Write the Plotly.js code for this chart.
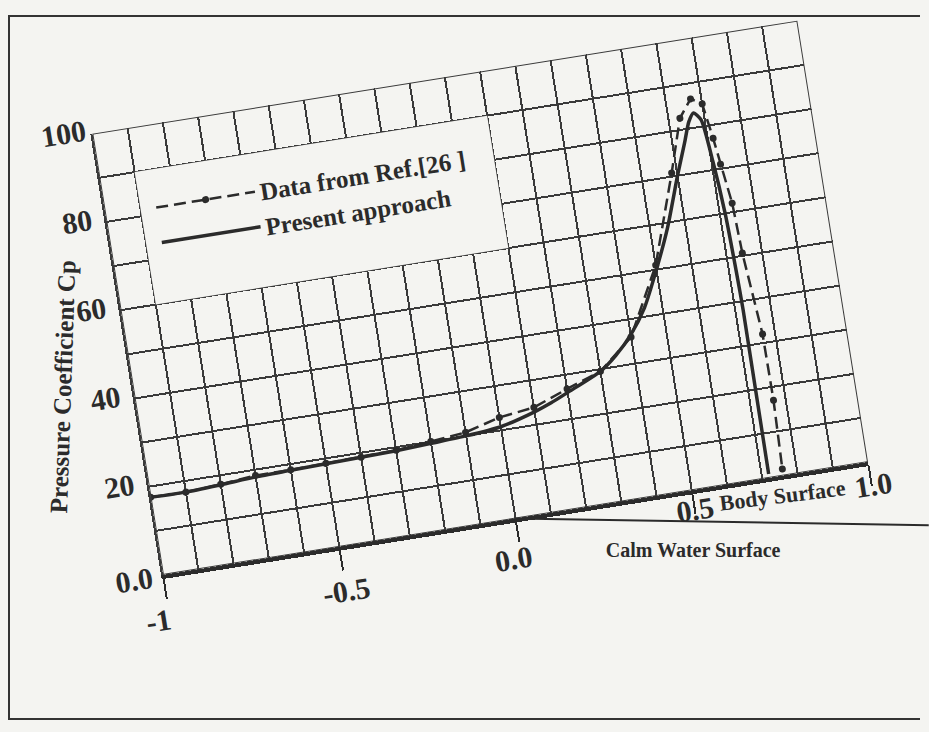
<!DOCTYPE html>
<html>
<head>
<meta charset="utf-8">
<script src="https://cdn.plot.ly/plotly-3.0.1.min.js"></script>
<style>
  html, body { margin:0; padding:0; width:929px; height:732px; overflow:hidden; background:#f4f4f1; }
  #frame { position:absolute; left:8px; top:15px; width:912px; height:705px; border:2px solid #333; border-right:none; box-sizing:border-box; }
  #plot { position:absolute; left:53px; top:68px; width:884px; height:600px;
          transform-origin:110px 507px; transform:rotate(-9.1deg); }
</style>
</head>
<body>
<div id="frame"></div>
<div id="plot"></div>
<script>
// ---- data (distance along body vs. pressure coefficient) ----
const refX = [-1.0, -0.9, -0.8, -0.7, -0.6, -0.5, -0.4, -0.3, -0.2, -0.1, 0.0, 0.1, 0.2, 0.3, 0.4, 0.5, 0.585, 0.632, 0.67, 0.70, 0.715, 0.724, 0.739, 0.745, 0.765, 0.766, 0.76];
const refY = [17.6, 17.5, 18.0, 18.7, 18.7, 18.9, 19.0, 19.3, 20.0, 20.8, 22.9, 23.9, 26.8, 29.5, 36.0, 51.0, 70.8, 82.6, 86.5, 85.0, 77.0, 71.0, 62.0, 50.6, 32.0, 17.0, 1.5];

const presX = [-1.0, -0.9, -0.8, -0.7, -0.6, -0.5, -0.4, -0.3, -0.2, -0.1, 0.0, 0.1, 0.15, 0.2, 0.3, 0.35, 0.4, 0.45, 0.5, 0.55, 0.6, 0.634, 0.655, 0.672, 0.69, 0.704, 0.715, 0.72, 0.722, 0.72];
const presY = [17.6, 17.5, 17.9, 18.4, 18.6, 18.8, 19.0, 19.2, 19.6, 20.0, 20.8, 22.9, 24.3, 26.0, 29.5, 32.5, 36.5, 42.0, 50.0, 59.0, 70.0, 77.0, 81.5, 83.3, 81.5, 72.0, 60.0, 47.0, 38.0, 0.9];

const seriesNames = ["Data from Ref.[26 ]", "Present approach"];
const xTickVals = [-1, -0.5, 0, 0.5, 1];
const xTickText = ["-1", "-0.5", "0.0", "0.5", "1.0"];
const yTickVals = [0, 20, 40, 60, 80, 100];
const yTickText = ["0.0", "20", "40", "60", "80", "100"];
const yTitle = "Pressure Coefficient Cp";
const bodyLabel = "Body Surface";
const waterLabel = "Calm Water Surface";

// ---- styling ----
const ink = "#2b2b2b";
const gridInk = "#3a3a3a";
const serif = "Liberation Serif, Times New Roman, serif";

const traces = [
  { x: refX, y: refY, name: seriesNames[0], type: "scatter", mode: "lines+markers",
    line: { color: ink, width: 2.5, dash: "12px,6px" }, marker: { color: ink, size: 7 } },
  { x: presX, y: presY, name: seriesNames[1], type: "scatter", mode: "lines",
    line: { color: ink, width: 3.5, shape: "spline", smoothing: 0.6 } }
];

// x tick label offsets (pixels) as placed in the reference
const xLabelShift = [[-12, -44], [0, -44], [-8, -39], [0, -19], [2, -23]];
const ann = [];
xTickVals.forEach((v, i) => {
  ann.push({ x: v, y: 0, xref: "x", yref: "y", text: xTickText[i], showarrow: false,
    xshift: xLabelShift[i][0], yshift: xLabelShift[i][1],
    font: { family: serif, size: 30, color: ink, weight: "bold" } });
});
yTickVals.forEach((v, i) => {
  ann.push({ x: -1, y: v, xref: "x", yref: "y", text: yTickText[i], showarrow: false,
    xanchor: "center", xshift: -29, yshift: (v === 0 ? 0 : 5),
    font: { family: serif, size: 30, color: ink, weight: "bold" } });
});
ann.push({ x: -1, y: 45, xref: "x", yref: "y", text: yTitle, showarrow: false, textangle: -79,
  xshift: -69, font: { family: serif, size: 25, color: ink, weight: "bold" } });
ann.push({ x: 0.75, y: 0, xref: "x", yref: "y", text: bodyLabel, showarrow: false, yshift: -19,
  textangle: 2, font: { family: serif, size: 22, color: ink, weight: "bold" } });
ann.push({ x: 0.477, y: 0, xref: "x", yref: "y", text: waterLabel, showarrow: false, yshift: -59,
  textangle: 9.1, font: { family: serif, size: 20, color: ink, weight: "bold" } });

const layout = {
  width: 884, height: 600,
  margin: { l: 110, r: 60, t: 60, b: 93, autoexpand: false },
  paper_bgcolor: "rgba(0,0,0,0)", plot_bgcolor: "rgba(0,0,0,0)",
  showlegend: true,
  legend: { x: 0.065, y: 0.865, xanchor: "left", yanchor: "top", bgcolor: "rgba(0,0,0,0)",
    itemwidth: 100, font: { family: serif, size: 25, color: ink, weight: "bold" } },
  xaxis: { range: [-1, 1], tickvals: xTickVals, showticklabels: false, ticks: "outside",
    ticklen: 20, tickwidth: 2, tickcolor: ink, showgrid: true, gridcolor: gridInk, gridwidth: 2,
    minor: { dtick: 0.1, tick0: -1, showgrid: true, gridcolor: gridInk, gridwidth: 2 },
    showline: true, linecolor: ink, linewidth: 4, zeroline: false, fixedrange: true },
  yaxis: { range: [0, 100], tickvals: yTickVals, showticklabels: false, ticks: "",
    showgrid: true, gridcolor: gridInk, gridwidth: 2,
    minor: { dtick: 10, tick0: 0, showgrid: true, gridcolor: gridInk, gridwidth: 2 },
    showline: true, linecolor: gridInk, linewidth: 2, zeroline: false, fixedrange: true },
  shapes: [
    { type: "rect", xref: "x", yref: "y", x0: -0.9, x1: 0.1, y0: 60, y1: 90, layer: "between",
      fillcolor: "#f4f4f1", line: { width: 0 } },
    { type: "rect", xref: "x", yref: "y", x0: -1, x1: 1, y0: 0, y1: 100, layer: "above",
      fillcolor: "rgba(0,0,0,0)", line: { width: 2, color: gridInk } },
    { type: "line", xref: "paper", yref: "paper", x0: 0.5, y0: 0, x1: 1.07, y1: -0.161,
      line: { width: 2, color: ink } }
  ],
  annotations: ann
};

Plotly.newPlot("plot", traces, layout, { staticPlot: true, displayModeBar: false });
</script>
</body>
</html>
